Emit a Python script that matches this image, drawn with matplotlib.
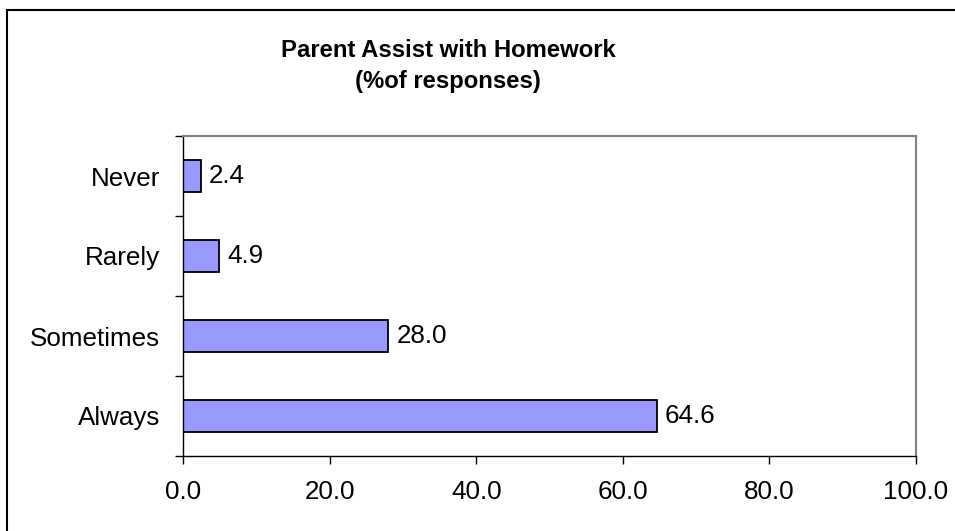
import matplotlib
matplotlib.use("Agg")
import matplotlib.pyplot as plt
from matplotlib.patches import Rectangle

categories = ["Always", "Sometimes", "Rarely", "Never"]
values = [64.6, 28.0, 4.9, 2.4]
xticks = [0, 20, 40, 60, 80, 100]
title = "Parent Assist with Homework\n(%of responses)"

plt.rcParams['font.family'] = ['Liberation Sans', 'DejaVu Sans']

W, H = 955, 531
fig = plt.figure(figsize=(W / 100, H / 100), dpi=100)
ax = fig.add_axes([183 / W, 1 - 456 / H, (916 - 183) / W, (456 - 136) / H])

FS = 18.7
ypos = list(range(len(categories)))
ax.barh(ypos, values, height=0.4, color="#9999FF", edgecolor="black", linewidth=1.3)
for y, v in zip(ypos, values):
    ax.text(v + 1.1, y, f"{v:.1f}", va="center", ha="left", fontsize=FS)

ax.set_xlim(0, 100)
ax.set_ylim(-0.5, len(categories) - 0.5)
ax.set_xticks(xticks)
ax.set_xticklabels([f"{t:.1f}" for t in xticks], fontsize=FS)
ax.set_yticks(ypos)
ax.set_yticklabels(categories, fontsize=FS)
ax.tick_params(axis="y", length=0, pad=16.5)
ax.set_yticks([y - 0.5 for y in range(len(categories) + 1)], minor=True)
ax.tick_params(axis="y", which="minor", length=6, width=1, direction="out", color="black")
ax.tick_params(axis="x", length=5.5, width=1, direction="out", pad=12)

for s in ["left", "bottom"]:
    ax.spines[s].set_color("black")
    ax.spines[s].set_linewidth(1)
for s in ["top", "right"]:
    ax.spines[s].set_color("#808080")
    ax.spines[s].set_linewidth(1.5)

fig.text(448 / W, 1 - 66 / H, title, ha="center", va="center", fontsize=17.2,
         fontweight="bold", linespacing=1.45)

fig.patches.append(Rectangle((7 / W, -0.1), 1.2, 1 - 10 / H + 0.1, transform=fig.transFigure,
                             fill=False, edgecolor="black", linewidth=1.5, clip_on=False))

fig.savefig("out.png", dpi=100)
